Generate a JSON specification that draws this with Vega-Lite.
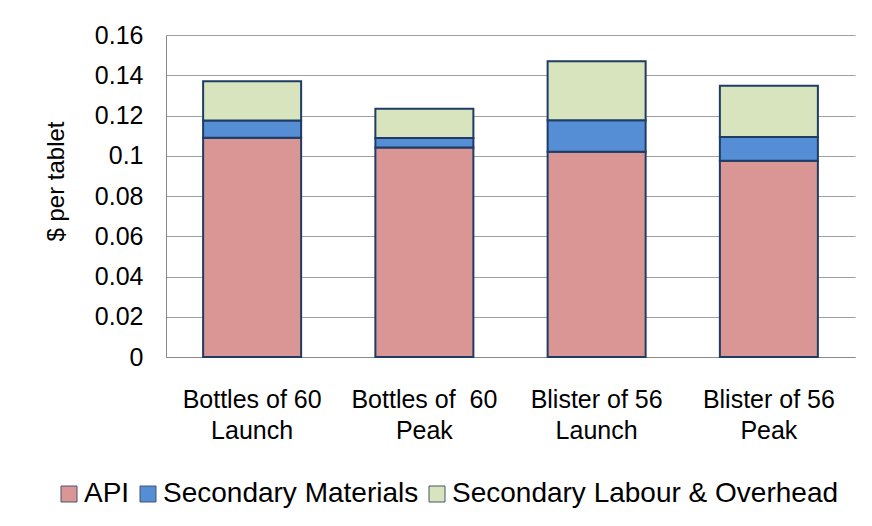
{
  "$schema": "https://vega.github.io/schema/vega-lite/v6.json",
  "width": 689,
  "height": 322,
  "autosize": {"type": "none"},
  "padding": {"left": 166, "top": 35, "right": 17, "bottom": 169},
  "background": "#ffffff",
  "data": {
    "values": [
      {"cat": "Bottles of 60|Launch", "component": "API", "k": 1, "value": 0.109},
      {"cat": "Bottles of 60|Launch", "component": "Secondary Materials", "k": 2, "value": 0.0085},
      {"cat": "Bottles of 60|Launch", "component": "Secondary Labour & Overhead", "k": 3, "value": 0.0195},
      {"cat": "Bottles of \u00a060|Peak", "component": "API", "k": 1, "value": 0.1041},
      {"cat": "Bottles of \u00a060|Peak", "component": "Secondary Materials", "k": 2, "value": 0.0047},
      {"cat": "Bottles of \u00a060|Peak", "component": "Secondary Labour & Overhead", "k": 3, "value": 0.0146},
      {"cat": "Blister of 56|Launch", "component": "API", "k": 1, "value": 0.102},
      {"cat": "Blister of 56|Launch", "component": "Secondary Materials", "k": 2, "value": 0.0156},
      {"cat": "Blister of 56|Launch", "component": "Secondary Labour & Overhead", "k": 3, "value": 0.0293},
      {"cat": "Blister of 56|Peak", "component": "API", "k": 1, "value": 0.0975},
      {"cat": "Blister of 56|Peak", "component": "Secondary Materials", "k": 2, "value": 0.0118},
      {"cat": "Blister of 56|Peak", "component": "Secondary Labour & Overhead", "k": 3, "value": 0.0255}
    ]
  },
  "mark": {"type": "bar", "stroke": "#1F3C64", "strokeWidth": 2},
  "encoding": {
    "x": {
      "field": "cat",
      "type": "nominal",
      "sort": null,
      "scale": {"paddingInner": 0.431, "paddingOuter": 0.2155},
      "axis": {
        "title": null,
        "labelAngle": 0,
        "labelExpr": "split(datum.label, '|')",
        "labelFont": "Liberation Sans",
        "labelFontSize": 25,
        "labelColor": "#000000",
        "labelLineHeight": 31,
        "labelPadding": 30,
        "ticks": false,
        "tickSize": 0,
        "domainColor": "#888888",
        "domainWidth": 1,
        "labelLimit": 300
      }
    },
    "y": {
      "field": "value",
      "type": "quantitative",
      "stack": "zero",
      "scale": {"domain": [0, 0.16], "nice": false},
      "axis": {
        "title": "$ per tablet",
        "values": [0, 0.02, 0.04, 0.06, 0.08, 0.1, 0.12, 0.14, 0.16],
        "labelExpr": "datum.value == 0 ? '0' : format(datum.value, '.2~f')",
        "labelFont": "Liberation Sans",
        "labelFontSize": 25,
        "labelColor": "#000000",
        "labelPadding": 23,
        "ticks": false,
        "tickSize": 0,
        "grid": true,
        "gridColor": "#A0A0A0",
        "gridWidth": 1,
        "domainColor": "#888888",
        "domainWidth": 1,
        "titleFont": "Liberation Sans",
        "titleFontSize": 24,
        "titleFontWeight": "normal",
        "titleColor": "#000000",
        "titleAngle": -90,
        "titleBaseline": "alphabetic",
        "titleAlign": "center",
        "titleX": -103,
        "titleY": 146
      }
    },
    "color": {
      "field": "component",
      "type": "nominal",
      "scale": {
        "domain": ["API", "Secondary Materials", "Secondary Labour & Overhead"],
        "range": ["#D99694", "#558ED5", "#D7E4BD"]
      },
      "legend": {
        "title": null,
        "orient": "none",
        "direction": "horizontal",
        "legendX": -111,
        "legendY": 445,
        "padding": 0,
        "symbolType": "square",
        "symbolSize": 256,
        "symbolStrokeColor": "#44546A",
        "symbolStrokeWidth": 1,
        "labelFont": "Liberation Sans",
        "labelFontSize": 28,
        "labelColor": "#000000",
        "labelOffset": 1,
        "columnPadding": 4,
        "labelLimit": 500
      }
    },
    "order": {"field": "k", "type": "quantitative"}
  },
  "config": {
    "view": {"stroke": null},
    "axis": {"gridOpacity": 1}
  }
}
